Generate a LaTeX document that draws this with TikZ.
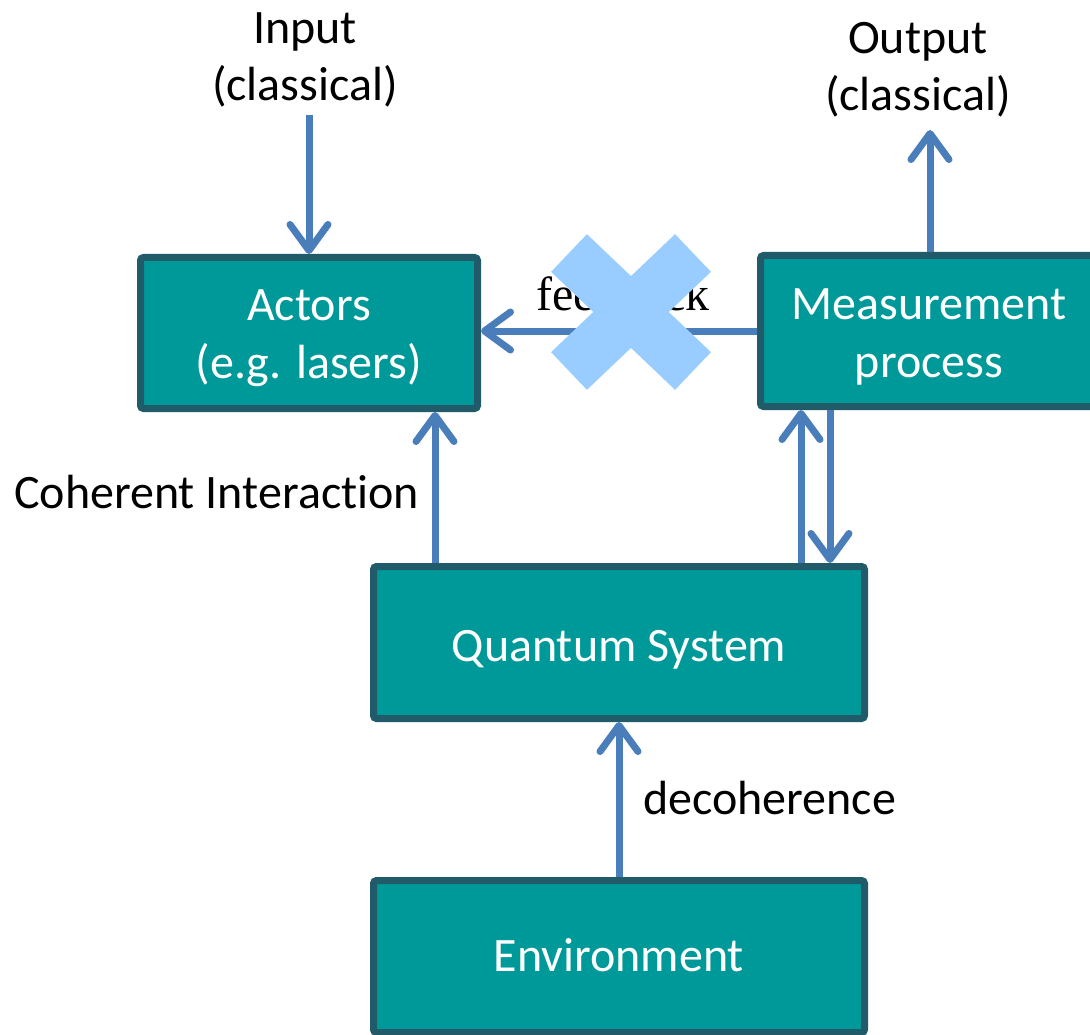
\documentclass[tikz,border=0pt]{standalone}
\usepackage{fontspec}
\setmainfont[Ligatures=NoCommon]{Carlito}
\newfontfamily\serifface{Liberation Serif}
\usetikzlibrary{arrows.meta}
\definecolor{boxfill}{HTML}{009999}
\definecolor{boxline}{HTML}{215A68}
\definecolor{arrowblue}{HTML}{4A7EBB}
\definecolor{crossblue}{HTML}{99CCFF}
% set block text a little below the geometric centre of its box
\newcommand{\blocktext}[2]{\raisebox{-#1}[\height][\depth]{\begin{tabular}{@{}c@{}}#2\end{tabular}}}
\tikzset{
  block/.style={draw=boxline, fill=boxfill, line width=7pt, rounded corners=3pt,
    text=white, align=center, font=\fontsize{48}{58}\selectfont, inner sep=0pt},
  flow/.style={draw=arrowblue, line width=7pt,
    -{Straight Barb[length=26pt,width=38pt,line cap=round,line join=round]}},
  label/.style={align=center, font=\fontsize{48}{57}\selectfont, inner sep=0pt}
}
\begin{document}
\begin{tikzpicture}[x=1pt,y=-1pt]
\useasboundingbox (0,0) rectangle (1090,1035);
\clip (0,0) rectangle (1090,1035);

% blocks
\node[block, minimum width=337pt, minimum height=151pt] (actors) at (309,333) {\blocktext{5pt}{Actors\\(e.g. lasers)}};
\node[block, minimum width=337pt, minimum height=151pt] (meas) at (929,331) {\blocktext{6pt}{Measurement\\process}};
\node[block, minimum width=491pt, minimum height=152pt] (qs) at (619,642.5) {\blocktext{7pt}{Quantum System}};
\node[block, minimum width=491pt, minimum height=152pt] (env) at (619,956.5) {\blocktext{3pt}{Environment}};

% free labels
\node[label] (inlbl) at (305,60) {Input\\(classical)};
\node[label] (outlbl) at (918,70) {Output\\(classical)};
\node[label, anchor=west] (cohlbl) at (14,492) {Coherent Interaction};
\node[label, anchor=west] (declbl) at (643,798) {decoherence};
\node[inner sep=0pt, font=\serifface\fontsize{48}{50}\selectfont] (fblbl) at (623,294) {feedback};

% free ends of the classical input / output
\coordinate (infree) at (309,115);
\coordinate (outfree) at (930,130);

% connectors
\draw[flow] (infree) -- (infree |- actors.north);
\draw[flow] (meas.north -| outfree) -- (outfree);
\draw[flow] (meas.west) -- (meas.west -| actors.east);
\draw[flow] ([xshift=-184pt]qs.north) -- ([xshift=-184pt]qs.north |- actors.south);
\draw[flow] ([xshift=182pt]qs.north) -- ([xshift=182pt]qs.north |- meas.south);
\draw[flow] ([xshift=211pt]qs.north |- meas.south) -- ([xshift=211pt]qs.north);
\draw[flow] (env.north) -- (qs.south);

% cross over the feedback path
\coordinate (xc) at (631,312);
\draw[crossblue, line width=52pt, line cap=butt]
  ([shift={(-62,-59)}]xc) -- ([shift={(62,59)}]xc)
  ([shift={(62,-59)}]xc) -- ([shift={(-62,59)}]xc);
\end{tikzpicture}
\end{document}
